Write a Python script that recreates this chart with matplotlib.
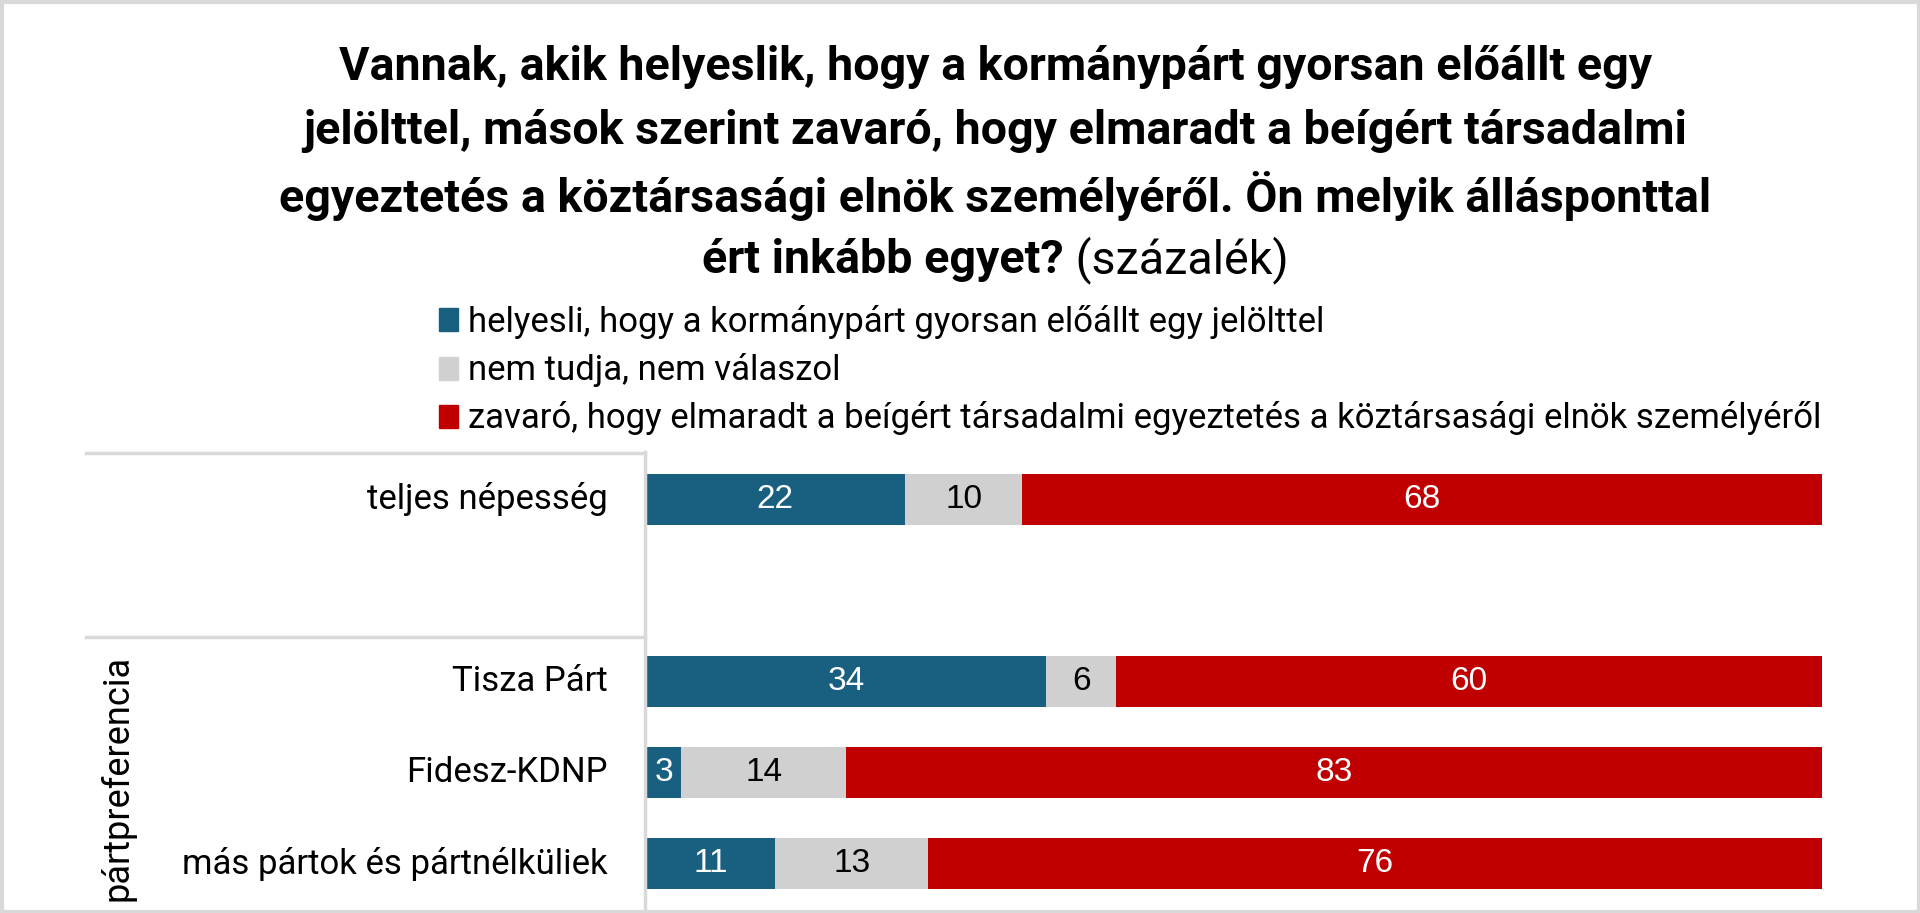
import matplotlib
matplotlib.use("Agg")
import matplotlib.pyplot as plt
from matplotlib.patches import Rectangle
from matplotlib.lines import Line2D

# ---- data ----
categories = ["teljes népesség", "", "Tisza Párt", "Fidesz-KDNP", "más pártok és pártnélküliek"]
series_names = [
    "helyesli, hogy a kormánypárt gyorsan előállt egy jelölttel",
    "nem tudja, nem válaszol",
    "zavaró, hogy elmaradt a beígért társadalmi egyeztetés a köztársasági elnök személyéről",
]
approve = [22, None, 34, 3, 11]
dontknow = [10, None, 6, 14, 13]
disturbing = [68, None, 60, 83, 76]
colors = ["#185f80", "#d0d0d0", "#c00000"]
label_colors = ["white", "black", "white"]
group_label = "pártpreferencia"
title_lines = [
    "Vannak, akik helyeslik, hogy a kormánypárt gyorsan előállt egy",
    "jelölttel, mások szerint zavaró, hogy elmaradt a beígért társadalmi",
    "egyeztetés a köztársasági elnök személyéről. Ön melyik állásponttal",
]
title_last_bold = "ért inkább egyet?"
title_last_regular = " (százalék)"

FONT = ["Roboto", "DejaVu Sans"]
NUMFONT = ["Liberation Sans", "DejaVu Sans"]

W, H = 1920, 913
fig = plt.figure(figsize=(W / 100, H / 100), dpi=100)
fig.patch.set_facecolor("white")

def fx(px):
    return px / W

def fy(py):
    return 1 - py / H

# outer border
fig.add_artist(Rectangle((fx(1.5), fy(911.5)), fx(1917), 909 / H, transform=fig.transFigure,
                         fill=False, edgecolor="#d9d9d9", linewidth=3))

# main axes
ax_left, ax_right = 646, 1822
ax_top, ax_bottom = 453.5, 909.5
ax = fig.add_axes([fx(ax_left), fy(ax_bottom), fx(ax_right - ax_left), (ax_bottom - ax_top) / H])
ax.set_xlim(0, 100)
ax.set_ylim(len(categories) - 0.5, -0.5)
ax.axis("off")

series = [approve, dontknow, disturbing]
ypos = list(range(len(categories)))
lefts = [0] * len(categories)
for s, vals in enumerate(series):
    for i, v in enumerate(vals):
        if v is None:
            continue
        ax.barh(ypos[i], v, left=lefts[i], height=0.56, color=colors[s], edgecolor="none")
        ax.text(lefts[i] + v / 2, ypos[i], str(v), ha="center", va="center",
                color=label_colors[s], fontsize=24, family=NUMFONT)
        lefts[i] += v

# category labels
for i, c in enumerate(categories):
    if c:
        ax.text(-38 / (ax_right - ax_left) * 100, ypos[i], c, ha="right", va="center",
                fontsize=25, family=FONT, color="black")

# label panel lines
line_kw = dict(color="#d9d9d9", linewidth=2.5, transform=fig.transFigure)
fig.add_artist(Line2D([fx(86), fx(645)], [fy(453), fy(453)], **line_kw))
fig.add_artist(Line2D([fx(86), fx(645)], [fy(637), fy(637)], **line_kw))
fig.add_artist(Line2D([fx(645), fx(645)], [fy(452), fy(911)], **line_kw))

fig.text(fx(118), fy(778), group_label, rotation=90, ha="center", va="center",
         fontsize=26, family=FONT, color="black")

# legend
handles = [Rectangle((0, 0), 1, 1, color=c) for c in colors]
fig.legend(handles, series_names, loc="upper left", bbox_to_anchor=(fx(439), fy(305)),
           frameon=False, prop={"family": FONT, "size": 25},
           handlelength=0.55, handleheight=0.64, handletextpad=0.28, labelspacing=0.41,
           borderaxespad=0, borderpad=0)

# title
TCX = 0.5185
TSIZE = 33.6
title_y = [67, 131, 196]
for line, y in zip(title_lines, title_y):
    fig.text(TCX, fy(y), line, ha="center", va="center", fontsize=TSIZE, fontweight="bold",
             family=FONT)

fig.canvas.draw()
r = fig.canvas.get_renderer()
t1 = fig.text(0, fy(260), title_last_bold, ha="left", va="center", fontsize=TSIZE,
              fontweight="bold", family=FONT)
t2 = fig.text(0, fy(260), title_last_regular, ha="left", va="center", fontsize=TSIZE,
              family=FONT)
w1 = t1.get_window_extent(r).width
w2 = t2.get_window_extent(r).width
start = TCX * W - (w1 + w2) / 2
t1.set_x(start / W)
t2.set_x((start + w1) / W)

fig.savefig("out.png", dpi=100, facecolor="white")
